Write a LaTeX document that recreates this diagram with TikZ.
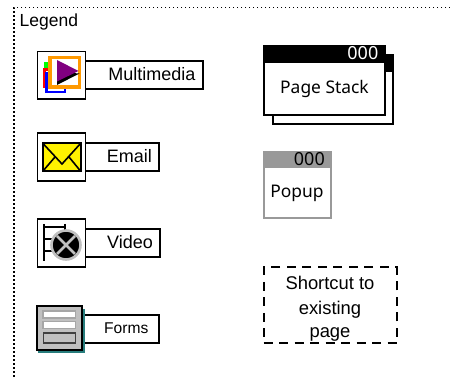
\documentclass[tikz,border=0pt]{standalone}
\usepackage{fontspec}
\setmainfont{Liberation Sans}
\newfontfamily\tahomalike{Noto Sans}
\tikzset{
  x=1pt,y=-1pt,
  boxline/.style={draw=black,line width=2pt,fill=white},
  iconbox/.style={boxline,line width=1.8pt},
  labeltext/.style={font=\fontsize{18}{20}\selectfont,inner sep=0pt,anchor=base east},
  pagetext/.style={font=\tahomalike\fontsize{17.4}{20}\selectfont,inner sep=0pt},
  numtext/.style={font=\tahomalike\fontsize{18}{20}\selectfont,inner sep=0pt,anchor=base east},
}
\definecolor{mmorange}{RGB}{255,153,0}
\definecolor{mmpurple}{RGB}{128,0,128}
\definecolor{popgray}{RGB}{153,153,153}
\definecolor{formgray}{RGB}{192,192,192}
\definecolor{formteal}{RGB}{40,125,125}
\begin{document}
\begin{tikzpicture}
\useasboundingbox (0,0) rectangle (450,379);
\fill[white] (0,0) rectangle (450,379);
% legend frame
\draw[line width=1.1pt,dash pattern=on 1.1pt off 2.9pt] (450,7.5) -- (14,7.5) -- (14,379);
\node[font=\fontsize{17.5}{20}\selectfont,inner sep=0pt,anchor=base west] (legend) at (19.5,27) {Legend};
% Multimedia
\draw[boxline] (85,61) rectangle (203,89);
\node[labeltext] (mmt) at (195.5,81) {Multimedia};
\draw[iconbox] (37.5,51.5) rectangle (85.5,99);
\fill[green] (44,62) rectangle (50,72);
\fill[red] (42.5,68) rectangle (48,88);
\fill[red] (42.5,68) rectangle (58,71);
\fill[white] (46,71) rectangle (60,88);
\draw[blue,line width=2.4pt] (46.5,72) -- (46.5,92) -- (65,92) -- (65,86);
\draw[mmorange,line width=3.4pt,fill=white] (49.8,57.5) rectangle (79.3,87);
\fill[black] (57,85) -- (79.5,73.5) -- (57,72) -- cycle;
\fill[mmpurple] (57,60) -- (78.5,71) -- (57,81.5) -- cycle;
% Email
\draw[boxline] (85,143) rectangle (159,171);
\node[labeltext] (emt) at (152,163) {Email};
\draw[iconbox] (37.5,133) rectangle (85.5,181);
\draw[black,line width=2pt,fill=yellow] (43,143.5) rectangle (80.5,171);
\draw[black,line width=1.6pt] (43,143.5) -- (62,164) -- (80.5,143.5) (43,171) -- (55,157) (80.5,171) -- (69,157);
% Video
\draw[boxline] (85,229) rectangle (160,257);
\node[labeltext] (vit) at (153,249) {Video};
\draw[iconbox] (37.5,219) rectangle (85.5,267);
\draw[black,line width=2.6pt] (44,224) -- (44,261) (65,224) -- (65,232) (44,227) -- (65,227) (44,239) -- (55,239) (44,251) -- (55,251);
\draw[formgray,line width=2.6pt,fill=black] (66,245) circle (14.5);
\draw[formgray,line width=2.8pt] (57,236) -- (75,254) (75,236) -- (57,254);
% Forms
\draw[boxline] (84,315) rectangle (159,343);
\node[font=\fontsize{15.6}{18}\selectfont,inner sep=0pt,anchor=base east] (fot) at (148.5,334) {Forms};
\fill[formteal] (38,309) rectangle (84.5,353.5);
\draw[black,line width=2pt,fill=formgray] (37,306) rectangle (82,350);
\draw[gray!70,line width=1.3pt,fill=white] (43,311) rectangle (75.5,318);
\draw[gray!70,line width=1.3pt,fill=white] (43,321.5) rectangle (75.5,328.5);
\draw[black!75,line width=1.3pt,fill=formgray] (43.5,333) rectangle (75.5,343);
% Page stack
\draw[boxline] (273,55) rectangle (393,124);
\fill[black] (272,54) rectangle (394,72);
\draw[boxline] (264,46) rectangle (384.5,115);
\fill[black] (263,45) rectangle (385.5,63);
\node[numtext,text=white] (pn) at (378.5,60) {000};
\node[pagetext] (pt) at (324.5,89) {Page Stack};
% Popup
\draw[draw=popgray,line width=2pt,fill=white] (263.5,152) rectangle (330.5,218.5);
\fill[popgray] (262.5,151) rectangle (331.5,168.5);
\node[numtext,text=black] (pon) at (325,166) {000};
\node[pagetext] (pop) at (297,193) {Popup};
% Shortcut
\node[draw=black,line width=2pt,dash pattern=on 9pt off 6.5pt,minimum width=133pt,minimum height=76pt,inner sep=0pt,outer sep=0pt,align=center,font=\fontsize{18.4}{24}\selectfont,anchor=north west,text depth=0pt] (sc) at (263.5,267.5) {\rule{0pt}{17pt}Shortcut to\\existing\\page};
\end{tikzpicture}
\end{document}
